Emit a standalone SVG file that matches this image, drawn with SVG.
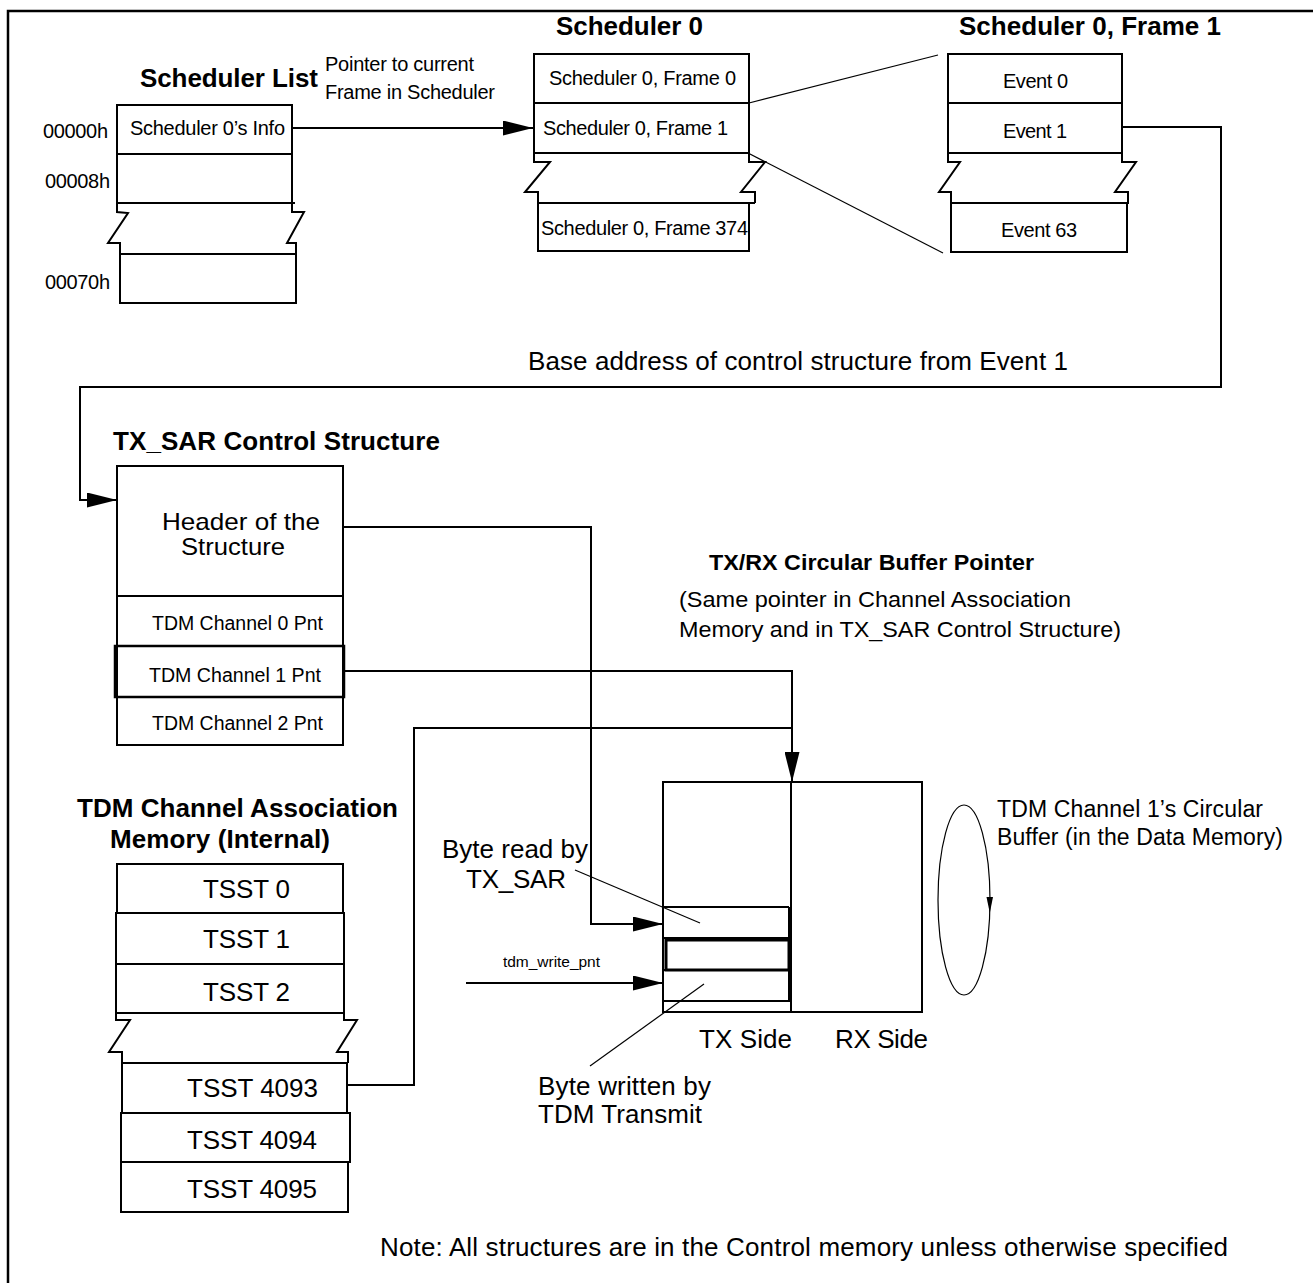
<svg xmlns="http://www.w3.org/2000/svg" width="1313" height="1283" viewBox="0 0 1313 1283">
<style>
text{font-family:"Liberation Sans",Arial,Helvetica,sans-serif;fill:#000}
.b{font-weight:bold;font-size:26px}
.r19{font-size:20px}
.r26{font-size:26px}
.box{fill:none;stroke:#000;stroke-width:2}
.ln{fill:none;stroke:#000;stroke-width:2}
.thin{fill:none;stroke:#000;stroke-width:1.2}
.conn{fill:none;stroke:#000;stroke-width:2}
</style>
<defs>
<marker id="ah" markerUnits="userSpaceOnUse" viewBox="0 0 30 15" markerWidth="30" markerHeight="15" refX="30" refY="7.5" orient="auto">
<path d="M0,0 L30,7.5 L0,15 z" fill="#000"/>
</marker>
</defs>
<rect x="8" y="11" width="1330" height="1300" fill="none" stroke="#000" stroke-width="2.5"/>

<g id="scheduler-list">
<text class="b" x="140" y="87" textLength="178">Scheduler List</text>
<text class="r19" x="325" y="71" textLength="149">Pointer to current</text>
<text class="r19" x="325" y="99" textLength="170">Frame in Scheduler</text>
<rect class="box" x="117" y="105" width="175" height="98"/>
<line class="ln" x1="117" y1="154" x2="292" y2="154"/>
<line class="ln" x1="117" y1="203" x2="295" y2="203"/>
<path class="ln" d="M117,203 L117,212 L128,213 L108,243 L120,243 L120,254"/>
<path class="ln" d="M292,203 L292,212 L304,212 L287,243 L296,243 L296,254"/>
<rect class="box" x="120" y="254" width="176" height="49"/>
<text class="r19" x="130" y="135" textLength="155">Scheduler 0’s Info</text>
<text class="r19" x="43" y="138" textLength="65">00000h</text>
<text class="r19" x="45" y="188" textLength="65">00008h</text>
<text class="r19" x="45" y="289" textLength="65">00070h</text>
</g>

<g id="scheduler-0">
<text class="b" x="556" y="35" textLength="147">Scheduler 0</text>
<rect class="box" x="534" y="54" width="215" height="99"/>
<line class="ln" x1="534" y1="103" x2="749" y2="103"/>
<path class="ln" d="M534,153 L534,162 L550,162 L525,192 L538,192 L538,203"/>
<path class="ln" d="M749,153 L749,162 L765,162 L741,192 L755,192 L755,203"/>
<line class="ln" x1="538" y1="203" x2="755" y2="203"/>
<rect class="box" x="538" y="203" width="211" height="48"/>
<text class="r19" x="549" y="85" textLength="187">Scheduler 0, Frame 0</text>
<text class="r19" x="543" y="135" textLength="185">Scheduler 0, Frame 1</text>
<text class="r19" x="541" y="235" textLength="207">Scheduler 0, Frame 374</text>
</g>

<g id="frame-1">
<text class="b" x="959" y="35" textLength="262">Scheduler 0, Frame 1</text>
<rect class="box" x="948" y="54" width="174" height="99"/>
<line class="ln" x1="948" y1="103" x2="1122" y2="103"/>
<path class="ln" d="M948,153 L948,162 L960,162 L939,192 L951,192 L951,203"/>
<path class="ln" d="M1122,153 L1122,162 L1136,162 L1115,192 L1128,192 L1128,203"/>
<line class="ln" x1="951" y1="203" x2="1129" y2="203"/>
<rect class="box" x="951" y="203" width="176" height="49"/>
<text class="r19" x="1003" y="88" textLength="65">Event 0</text>
<text class="r19" x="1003" y="138" textLength="64">Event 1</text>
<text class="r19" x="1001" y="237" textLength="76">Event 63</text>
</g>

<g id="base-address-label">
<text class="r26" x="528" y="370" textLength="540">Base address of control structure from Event 1</text>
</g>

<g id="tx-sar-structure">
<text class="b" x="113" y="450" textLength="327">TX_SAR Control Structure</text>
<rect class="box" x="117" y="466" width="226" height="279"/>
<line class="ln" x1="117" y1="596" x2="343" y2="596"/>
<line class="ln" x1="117" y1="646" x2="343" y2="646"/>
<rect x="115" y="646" width="229" height="51" fill="none" stroke="#000" stroke-width="2.5"/>
<text x="162" y="530" font-size="24" textLength="158" lengthAdjust="spacingAndGlyphs">Header of the</text>
<text x="181" y="555" font-size="24" textLength="104" lengthAdjust="spacingAndGlyphs">Structure</text>
<text x="152" y="630" font-size="20" textLength="171" lengthAdjust="spacingAndGlyphs">TDM Channel 0 Pnt</text>
<text x="149" y="682" font-size="20" textLength="172" lengthAdjust="spacingAndGlyphs">TDM Channel 1 Pnt</text>
<text x="152" y="730" font-size="20" textLength="171" lengthAdjust="spacingAndGlyphs">TDM Channel 2 Pnt</text>
</g>

<g id="pointer-note">
<text x="709" y="570" font-size="22" font-weight="bold" textLength="325" lengthAdjust="spacingAndGlyphs">TX/RX Circular Buffer Pointer</text>
<text x="679" y="607" font-size="22" textLength="392" lengthAdjust="spacingAndGlyphs">(Same pointer in Channel Association</text>
<text x="679" y="637" font-size="22" textLength="442" lengthAdjust="spacingAndGlyphs">Memory and in TX_SAR Control Structure)</text>
</g>

<g id="tdm-association-memory">
<text class="b" x="77" y="817" textLength="321">TDM Channel Association</text>
<text class="b" x="110" y="848" textLength="220">Memory (Internal)</text>
<rect class="box" x="117" y="864" width="226" height="49"/>
<rect class="box" x="116" y="913" width="228" height="51"/>
<rect class="box" x="116" y="964" width="228" height="49"/>
<path class="ln" d="M116,1013 L116,1020 L130,1020 L109,1052 L122,1052 L122,1063"/>
<path class="ln" d="M344,1013 L344,1020 L357,1020 L337,1052 L348,1052 L348,1063"/>
<rect class="box" x="122" y="1063" width="225" height="50"/>
<rect class="box" x="121" y="1113" width="229" height="49"/>
<rect class="box" x="121" y="1162" width="227" height="50"/>
<text class="r26" x="203" y="898" textLength="87">TSST 0</text>
<text class="r26" x="203" y="948" textLength="87">TSST 1</text>
<text class="r26" x="203" y="1001" textLength="87">TSST 2</text>
<text class="r26" x="187" y="1097" textLength="131">TSST 4093</text>
<text class="r26" x="187" y="1149" textLength="130">TSST 4094</text>
<text class="r26" x="187" y="1198" textLength="130">TSST 4095</text>
</g>

<g id="circular-buffer">
<rect class="box" x="663" y="782" width="259" height="230"/>
<line class="ln" x1="791" y1="782" x2="791" y2="1012"/>
<line class="ln" x1="663" y1="907" x2="789" y2="907"/>
<line class="ln" x1="789" y1="907" x2="789" y2="1001"/>
<line class="ln" x1="663" y1="938" x2="789" y2="938"/>
<rect x="666" y="940" width="123" height="30" fill="none" stroke="#000" stroke-width="3"/>
<line class="ln" x1="663" y1="970" x2="789" y2="970"/>
<line class="ln" x1="663" y1="1001" x2="791" y2="1001"/>
<text class="r26" x="699" y="1048" textLength="93">TX Side</text>
<text class="r26" x="835" y="1048" textLength="93">RX Side</text>
<text class="r26" x="442" y="858" textLength="146">Byte read by</text>
<text class="r26" x="466" y="888" textLength="100">TX_SAR</text>
<text x="503" y="967" font-size="15.5" textLength="97">tdm_write_pnt</text>
<text class="r26" x="538" y="1095" textLength="173">Byte written by</text>
<text class="r26" x="538" y="1123" textLength="164">TDM Transmit</text>
</g>

<g id="circular-indicator">
<ellipse cx="964" cy="900" rx="26" ry="95" fill="none" stroke="#000" stroke-width="1.2"/>
<polygon points="986.5,897 993,897 989.8,913" fill="#000"/>
<text x="997" y="817" font-size="23" textLength="266">TDM Channel 1’s Circular</text>
<text x="997" y="845" font-size="23" textLength="286">Buffer (in the Data Memory)</text>
</g>

<g id="note">
<text class="r26" x="380" y="1256" textLength="848">Note: All structures are in the Control memory unless otherwise specified</text>
</g>

<g id="connectors">
<path class="conn" d="M292,128 L533,128" marker-end="url(#ah)"/>
<line class="thin" x1="749" y1="103" x2="938" y2="55"/>
<line class="thin" x1="748" y1="153" x2="943" y2="253"/>
<path class="conn" d="M1122,127 L1221,127 L1221,387 L80,387 L80,500 L117,500" marker-end="url(#ah)"/>
<path class="conn" d="M343,527 L591,527 L591,924 L663,924" marker-end="url(#ah)"/>
<path class="conn" d="M344,671 L792,671 L792,782" marker-end="url(#ah)"/>
<path class="conn" d="M348,1085 L414,1085 L414,728 L792,728"/>
<path class="conn" d="M466,983 L663,983" marker-end="url(#ah)"/>
<line class="thin" x1="575" y1="870" x2="700" y2="923"/>
<line class="thin" x1="590" y1="1066" x2="704" y2="984"/>
</g>
</svg>
